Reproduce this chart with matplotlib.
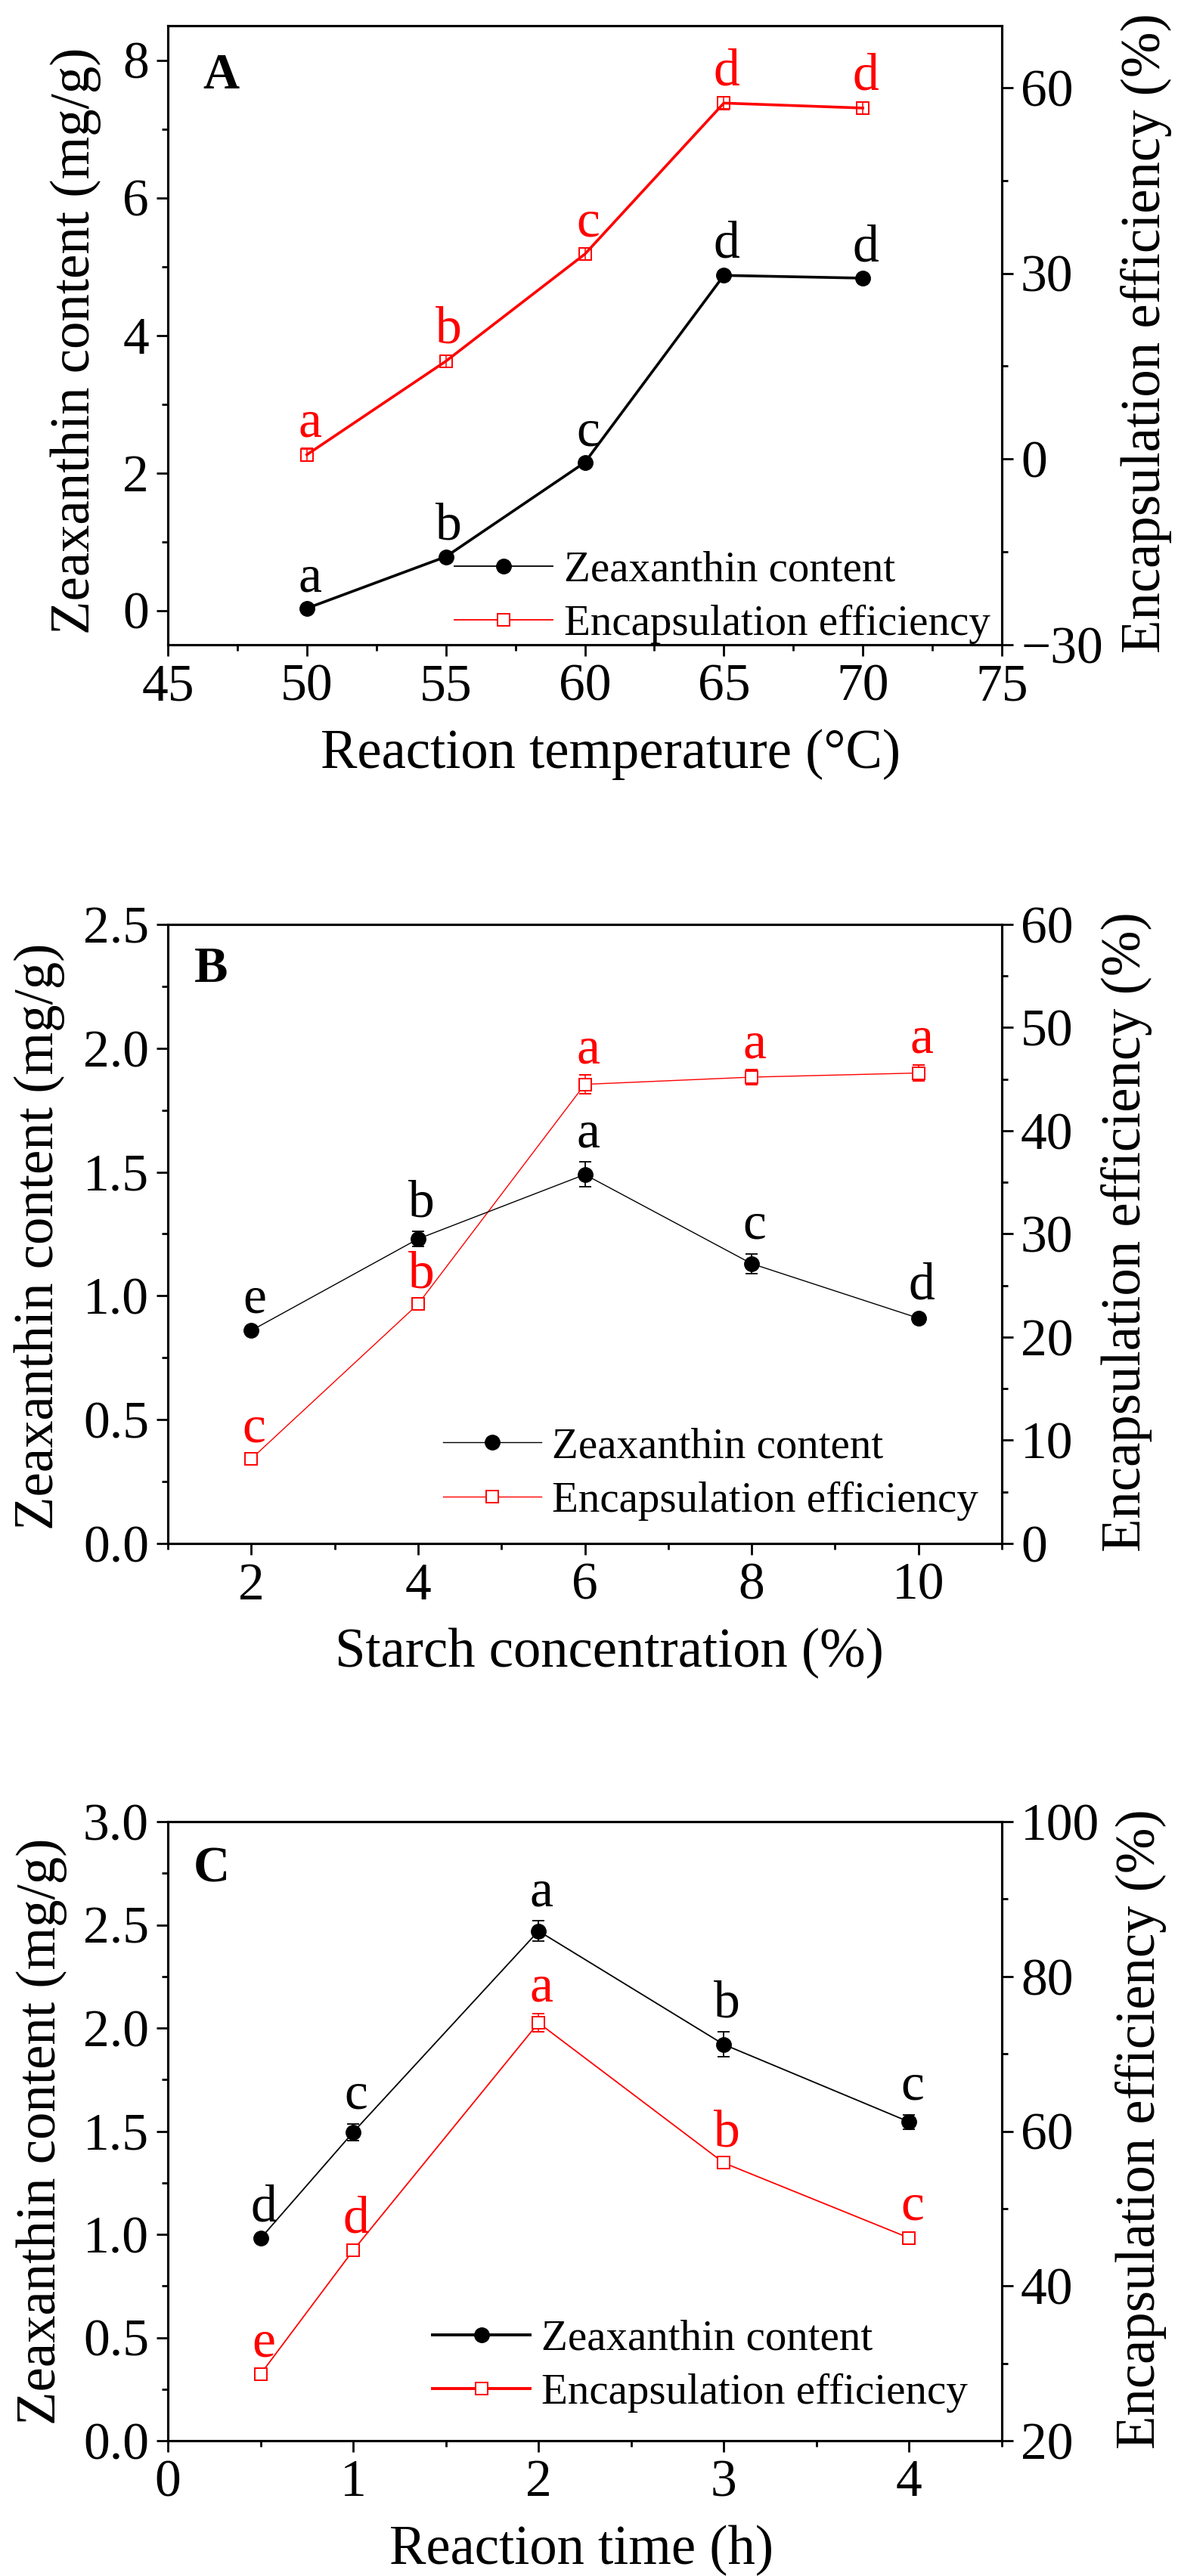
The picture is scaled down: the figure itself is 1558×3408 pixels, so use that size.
import matplotlib
matplotlib.use('Agg')
import matplotlib.pyplot as plt
from matplotlib.ticker import MultipleLocator
from matplotlib.lines import Line2D

plt.rcParams['font.family'] = ['Liberation Serif', 'DejaVu Serif']
plt.rcParams['axes.unicode_minus'] = True

# ---------------- data ----------------
# Panel A
temp = [50, 55, 60, 65, 70]
zea_A = [0.03, 0.78, 2.15, 4.87, 4.83]
zea_A_err = [0.02, 0.03, 0.03, 0.04, 0.03]
ee_A = [0.7, 15.8, 33.1, 57.5, 56.7]
ee_A_err = [1.0, 1.0, 1.0, 1.0, 1.0]
zea_A_lab = ['a', 'b', 'c', 'd', 'd']
ee_A_lab = ['a', 'b', 'c', 'd', 'd']

# Panel B
conc = [2, 4, 6, 8, 10]
zea_B = [0.86, 1.23, 1.49, 1.13, 0.91]
zea_B_err = [0.01, 0.03, 0.05, 0.04, 0.015]
ee_B = [8.2, 23.2, 44.5, 45.2, 45.6]
ee_B_err = [0.5, 0.4, 0.9, 0.7, 0.8]
zea_B_lab = ['e', 'b', 'a', 'c', 'd']
ee_B_lab = ['c', 'b', 'a', 'a', 'a']

# Panel C
rtime = [0.5, 1, 2, 3, 4]
zea_C = [0.98, 1.495, 2.47, 1.92, 1.545]
zea_C_err = [0.01, 0.04, 0.05, 0.06, 0.035]
ee_C = [28.6, 44.6, 74.0, 55.9, 46.2]
ee_C_err = [0.7, 0.7, 1.2, 0.6, 0.8]
zea_C_lab = ['d', 'c', 'a', 'b', 'c']
ee_C_lab = ['e', 'd', 'a', 'b', 'c']

legend_labels = ['Zeaxanthin content', 'Encapsulation efficiency']
left_label = 'Zeaxanthin content (mg/g)'
right_label = 'Encapsulation efficiency (%)'

RED = '#FF0000'
TICK_FS = 50
XLAB_FS = 52.3
YLAB_FS = 52.5
RLAB_FS = 52.4
LET_FS = 50
LEG_FS = 41
W, H = 1558, 3408
fig = plt.figure(figsize=(W / 100, H / 100), dpi=100)
AX_H = 819


def style_axis(ax, right=False):
    for s in ax.spines.values():
        s.set_linewidth(2.2)
    ax.tick_params(which='major', direction='out', length=11, width=2.0,
                   labelsize=TICK_FS, pad=7)
    ax.tick_params(which='minor', direction='out', length=6, width=2.0)
    if right:
        ax.tick_params(which='both', left=False, right=True, top=False, bottom=False)
    else:
        ax.tick_params(which='both', top=False, right=False)


def panel(rect, x, zea, zea_err, ee, ee_err, zlab, elab, xlim, xmaj, xmin,
          ylim, ymaj, ymin, y2lim, y2maj, y2min, xlabel, tag, lw, leg_anchor,
          sq_face, leg_lw, xlab_x, l_xy, r_x):
    ax = fig.add_axes(rect)
    ax2 = ax.twinx()
    ax.set_zorder(ax2.get_zorder() + 1)
    ax.patch.set_visible(False)

    ax.errorbar(x, zea, yerr=zea_err, color='black', lw=lw, marker='o',
                ms=14, mfc='black', mec='black', capsize=6, elinewidth=1.3,
                capthick=1.3, zorder=3)
    ax2.errorbar(x, ee, yerr=ee_err, color=RED, lw=lw, marker='s',
                 ms=11.5, mfc=sq_face, mec=RED, mew=1.4, capsize=6,
                 elinewidth=1.1, capthick=1.1, zorder=3)

    for xi, yi, ei, t in zip(x, zea, zea_err, zlab):
        ax.annotate(t, xy=(xi, yi + ei), xytext=(4, 20), textcoords='offset pixels',
                    ha='center', va='baseline', fontsize=LET_FS, color='black')
    for xi, yi, ei, t in zip(x, ee, ee_err, elab):
        ax2.annotate(t, xy=(xi, yi + ei), xytext=(4, 16), textcoords='offset pixels',
                     ha='center', va='baseline', fontsize=LET_FS, color=RED)

    ax.set_xlim(*xlim)
    ax.set_ylim(*ylim)
    ax2.set_ylim(*y2lim)
    ax.xaxis.set_major_locator(MultipleLocator(xmaj))
    ax.xaxis.set_minor_locator(MultipleLocator(xmin))
    ax.yaxis.set_major_locator(MultipleLocator(ymaj))
    ax.yaxis.set_minor_locator(MultipleLocator(ymin))
    ax2.yaxis.set_major_locator(MultipleLocator(y2maj))
    ax2.yaxis.set_minor_locator(MultipleLocator(y2min))
    style_axis(ax)
    style_axis(ax2, right=True)
    ax2.tick_params(axis='x', which='both', bottom=False, top=False)

    ax.set_xlabel(xlabel, fontsize=XLAB_FS, va='center')
    ax.xaxis.set_label_coords(xlab_x, -145 / AX_H)
    ax.set_ylabel(left_label, fontsize=YLAB_FS, va='center')
    ax.yaxis.set_label_coords(*l_xy)
    ax2.set_ylabel(right_label, fontsize=RLAB_FS, va='center')
    ax2.yaxis.set_label_coords(r_x, 0.503)

    ax.text(tag[1], tag[2], tag[0], transform=ax.transAxes, fontsize=48,
            fontweight='bold', ha='center', va='center')

    h1 = Line2D([], [], color='black', lw=leg_lw, marker='o', ms=14,
                mfc='black', mec='black')
    h2 = Line2D([], [], color=RED, lw=leg_lw, marker='s', ms=11.5,
                mfc='white', mec=RED, mew=1.4)
    ax.legend([h1, h2], legend_labels, loc='lower left',
              bbox_to_anchor=leg_anchor, frameon=False, fontsize=LEG_FS,
              handlelength=2.28, handletextpad=0.257, labelspacing=0.34,
              borderpad=0, borderaxespad=0)
    return ax, ax2


x0, wdt = 222 / W, 1103 / W
hgt = AX_H / H

panel([x0, 1 - 853 / H, wdt, hgt], temp, zea_A, zea_A_err, ee_A, ee_A_err,
      zea_A_lab, ee_A_lab, (45, 75), 5, 2.5, (-0.5, 8.5), 2, 1,
      (-30, 70), 30, 15, 'Reaction temperature (°C)', ('A', 0.064, 0.919),
      2.6, (0.344, 0.001), 'none', 1.3, 0.531, (-0.1106, 0.491), 1.173)

panel([x0, 1 - 2042 / H, wdt, hgt], conc, zea_B, zea_B_err, ee_B, ee_B_err,
      zea_B_lab, ee_B_lab, (1, 11), 2, 1, (0, 2.5), 0.5, 0.25,
      (0, 60), 10, 5, 'Starch concentration (%)', ('B', 0.052, 0.927),
      1.0, (0.33, 0.037), 'white', 1.0, 0.529, (-0.154, 0.496), 1.150)

panel([x0, 1 - 3229 / H, wdt, hgt], rtime, zea_C, zea_C_err, ee_C, ee_C_err,
      zea_C_lab, ee_C_lab, (0, 4.5), 1, 0.5, (0, 3.0), 0.5, 0.25,
      (20, 100), 20, 10, 'Reaction time (h)', ('C', 0.052, 0.923),
      1.3, (0.317, 0.045), 'white', 2.8, 0.496, (-0.151, 0.5), 1.167)

fig.savefig('out.png', dpi=100)
